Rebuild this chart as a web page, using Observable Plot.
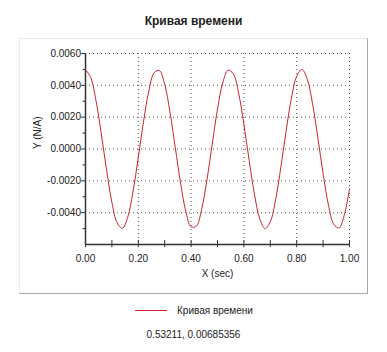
<!DOCTYPE html>
<html>
<head>
<meta charset="utf-8">
<script src="https://cdn.jsdelivr.net/npm/d3@7"></script>
<script src="https://cdn.jsdelivr.net/npm/@observablehq/plot@0.6"></script>
<style>
  html, body { margin: 0; padding: 0; background: #fff; }
  #wrap { position: relative; width: 387px; height: 352px; overflow: hidden; font-family: "Liberation Sans", Arial, sans-serif; color: #222; }
  #frame { position: absolute; left: 19px; top: 38px; width: 347px; height: 254px; border-left: 1px solid #ececec; border-top: 1px solid #ececec; border-right: 1px solid #a8a8a8; border-bottom: 1px solid #a8a8a8; }
  #title { position: absolute; left: 0; width: 387px; top: 14px; text-align: center; font-weight: bold; font-size: 12px; }
  #chart { position: absolute; left: 0; top: 0; }
  #legend { position: absolute; left: 135px; top: 305px; font-size: 10px; display: flex; align-items: center; }
  #legend .sw { width: 32px; height: 0; border-top: 1px solid #cc2233; margin-right: 10px; }
  #coords { position: absolute; left: 0; width: 387px; top: 329px; text-align: center; font-size: 10px; }
</style>
</head>
<body>
<div id="wrap">
  <div id="frame"></div>
  <div id="title">Кривая времени</div>
  <div id="chart"></div>
  <div id="legend"><div class="sw"></div><span>Кривая времени</span></div>
  <div id="coords">0.53211, 0.00685356</div>
</div>
<script>
// Time samples (sec) and signal values
const timeX = [0.00,0.02,0.04,0.06,0.08,0.10,0.12,0.14,0.16,0.18,0.20,0.22,0.24,0.26,0.28,0.30,0.32,0.34,0.36,0.38,0.40,0.42,0.44,0.46,0.48,0.50,0.52,0.54,0.56,0.58,0.60,0.62,0.64,0.66,0.68,0.70,0.72,0.74,0.76,0.78,0.80,0.82,0.84,0.86,0.88,0.90,0.92,0.94,0.96,0.98,1.00];
const valueY = [0.00500,0.00448,0.00302,0.00094,-0.00134,-0.00335,-0.00465,-0.00498,-0.00428,-0.00268,-0.00052,0.00174,0.00365,0.00479,0.00493,0.00405,0.00232,0.00010,-0.00213,-0.00392,-0.00489,-0.00484,-0.00379,-0.00194,0.00031,0.00250,0.00416,0.00496,0.00472,0.00350,0.00155,-0.00073,-0.00285,-0.00438,-0.00500,-0.00457,-0.00319,-0.00114,0.00114,0.00319,0.00457,0.00500,0.00438,0.00285,0.00073,-0.00155,-0.00350,-0.00472,-0.00496,-0.00416,-0.00250];
const xMajorTicks = [0, 0.2, 0.4, 0.6, 0.8, 1.0];
const xAllTicks = [0, 0.1, 0.2, 0.3, 0.4, 0.5, 0.6, 0.7, 0.8, 0.9, 1.0];
const yMajorTicks = [0.006, 0.004, 0.002, 0, -0.002, -0.004];
const yMinorTicks = [0.005, 0.003, 0.001, -0.001, -0.003, -0.005];
const yDomain = [-0.006, 0.006];
const xDomain = [0, 1];

const data = timeX.map((t, i) => ({t, v: valueY[i]}));

const chart = Plot.plot({
  width: 387,
  height: 300,
  marginLeft: 85,
  marginRight: 38,
  marginTop: 53,
  marginBottom: 56,
  style: {background: "transparent", fontFamily: "Liberation Sans, Arial, sans-serif", fontSize: "10px", color: "#222"},
  x: {domain: xDomain},
  y: {domain: yDomain},
  marks: [
    Plot.gridX(xMajorTicks.filter(d => d > 0), {stroke: "#555", strokeOpacity: 1, strokeDasharray: "1,3"}),
    Plot.gridY(yMajorTicks, {stroke: "#555", strokeOpacity: 1, strokeDasharray: "1,3"}),
    Plot.axisY(yMajorTicks, {tickSize: 4, tickPadding: 0.5, tickFormat: d => d.toFixed(4), stroke: "#333", fill: "#222", label: null}),
    Plot.axisY(yMinorTicks, {tickSize: 2.5, tickFormat: () => "", stroke: "#333", label: null}),
    Plot.axisX(xMajorTicks, {tickSize: 0, tickPadding: 10, tickFormat: d => d.toFixed(2), fill: "#222", label: null}),
    Plot.ruleX(xAllTicks, {y1: -0.0062, y2: -0.00575, stroke: "#333"}),
    Plot.ruleX([0], {y1: -0.006, y2: 0.006, stroke: "#333", strokeWidth: 1.5}),
    Plot.ruleY([-0.006], {x1: 0, x2: 1, stroke: "#333", strokeWidth: 1.5}),
    Plot.line(data, {x: "t", y: "v", stroke: "#cc2233", strokeWidth: 1, curve: "catmull-rom"}),
    Plot.text(["X (sec)"], {frameAnchor: "bottom", dy: 32, fill: "#222", fontSize: 10}),
    Plot.text(["Y (N/A)"], {frameAnchor: "left", dx: -48, rotate: -90, fill: "#222", fontSize: 10})
  ]
});
document.getElementById("chart").appendChild(chart);
</script>
</body>
</html>
